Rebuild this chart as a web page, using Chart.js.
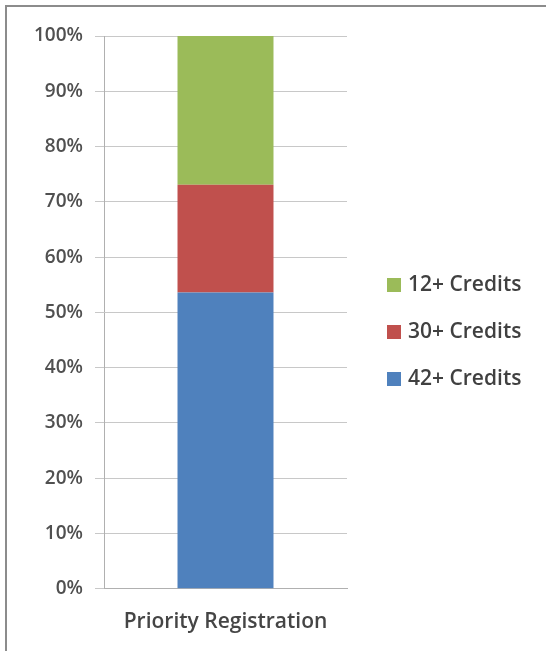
<!DOCTYPE html>
<html>
<head>
<meta charset="utf-8">
<script src="https://cdn.jsdelivr.net/npm/chart.js@4"></script>
<style>
  html, body { margin: 0; padding: 0; background: #fff; }
  #frame { position: absolute; left: 5px; top: 5px; width: 560px; height: 670px; border: 2px solid #8c8c8c; }
  #wrap { position: absolute; left: 0; top: 0; width: 546px; height: 651px; }
</style>
</head>
<body>
<div id="frame"></div>
<div id="wrap"><canvas id="chart" width="546" height="651"></canvas></div>
<script>
const categories = ["Priority Registration"];
const credits42 = [53.6];
const credits30 = [19.5];
const credits12 = [26.9];
const yTicks = ["0%", "10%", "20%", "30%", "40%", "50%", "60%", "70%", "80%", "90%", "100%"];

const FONT = "'Open Sans', Lato, sans-serif";

// legend on the right, drawn by hand so it sits where the original one does
const sideLegend = {
  id: "sideLegend",
  afterDraw(chart) {
    const c = chart.ctx;
    const sets = chart.data.datasets.slice().reverse();
    c.save();
    c.font = "600 21px " + FONT;
    c.textBaseline = "middle";
    sets.forEach((ds, i) => {
      const y = 285 + i * 47;
      c.fillStyle = ds.backgroundColor;
      c.fillRect(387, y - 7, 14, 14);
      c.fillStyle = "#404040";
      c.fillText(ds.label, 408, y);
    });
    c.restore();
  },
};

const ctx = document.getElementById("chart").getContext("2d");
new Chart(ctx, {
  type: "bar",
  data: {
    labels: categories,
    datasets: [
      { label: "42+ Credits", data: credits42, backgroundColor: "#4f81bd" },
      { label: "30+ Credits", data: credits30, backgroundColor: "#c0504d" },
      { label: "12+ Credits", data: credits12, backgroundColor: "#9bbb59" },
    ],
  },
  plugins: [sideLegend],
  options: {
    responsive: false,
    animation: false,
    barPercentage: 0.395,
    categoryPercentage: 1,
    layout: { padding: { left: 22, top: 36, right: 199, bottom: 3 } },
    plugins: {
      tooltip: { enabled: false },
      legend: { display: false },
    },
    scales: {
      x: {
        stacked: true,
        grid: { display: false, tickLength: 8 },
        border: { color: "#b0b0b0" },
        ticks: { color: "#454545", font: { family: FONT, size: 21, weight: 600 }, padding: 13 },
      },
      y: {
        stacked: true,
        min: 0,
        max: 100,
        afterBuildTicks: (axis) => {
          axis.ticks = yTicks.map((t) => ({ value: parseFloat(t) }));
        },
        grid: { color: "#c8c8c8", tickLength: 9 },
        border: { color: "#b0b0b0" },
        ticks: {
          color: "#505050",
          font: { family: FONT, size: 19, weight: 600 },
          padding: 12,
          callback: (v) => yTicks[Math.round(v / 10)],
        },
      },
    },
  },
});
</script>
</body>
</html>
